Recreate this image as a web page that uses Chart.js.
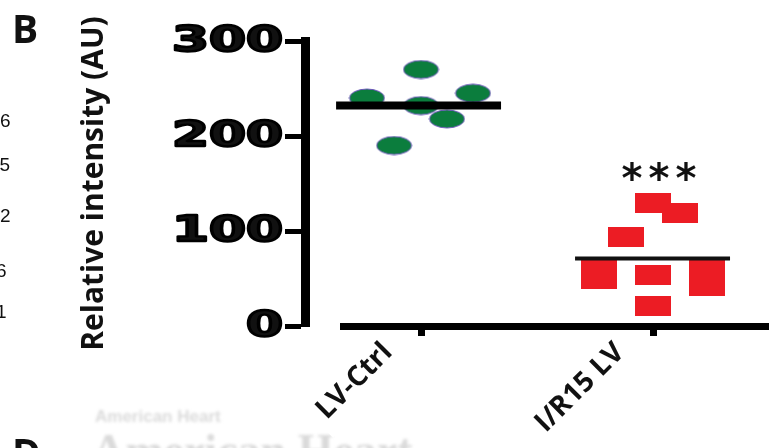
<!DOCTYPE html>
<html>
<head>
<meta charset="utf-8">
<script src="https://cdn.jsdelivr.net/npm/chart.js@4.4.1/dist/chart.umd.min.js"></script>
<style>
  html, body { margin: 0; padding: 0; background: #fff; }
  #wrap { width: 769px; height: 448px; position: relative; }
</style>
</head>
<body>
<div id="wrap"><canvas id="c"></canvas></div>
<script>
// datos
const categories = ['LV-Ctrl', 'I/R15 LV'];
const ctrlValues = [270, 245, 240, 232, 218, 190];
const ctrlJitter = [0, 0.224, -0.233, 0, 0.112, -0.116];
const irValues = [129, 119, 94, 59, 50, 54, 21, 59, 42];
const irJitter = [0, 0.116, -0.116, -0.233, -0.233, 0, 0, 0.233, 0.233];
const means = [232, 71];
const yTicks = [0, 100, 200, 300];
const sigLabel = '***';
const sigValue = 159;

// marcadores: elipse verde y rectángulo rojo
function ellipseMarker() {
  const c = document.createElement('canvas');
  c.width = 37; c.height = 20;
  const g = c.getContext('2d');
  g.beginPath();
  g.ellipse(18.5, 10, 17.5, 9, 0, 0, Math.PI * 2);
  g.fillStyle = '#0b7d3d';
  g.fill();
  g.lineWidth = 1;
  g.strokeStyle = '#6a55b8';
  g.stroke();
  return c;
}
function rectMarker() {
  const c = document.createElement('canvas');
  c.width = 36; c.height = 20;
  const g = c.getContext('2d');
  g.fillStyle = '#ec1c24';
  g.fillRect(0, 0, 36, 20);
  return c;
}

const ctrlPts = ctrlValues.map((v, i) => ({ x: 0 + ctrlJitter[i], y: v }));
const irPts = irValues.map((v, i) => ({ x: 1 + irJitter[i], y: v }));

// textos fuera del área: letra del panel, restos del panel vecino, marca de agua
const extras = {
  id: 'extras',
  beforeDraw(chart) {
    const ctx = chart.ctx;
    ctx.save();
    ctx.filter = 'blur(1.5px)';
    ctx.fillStyle = '#dadada';
    ctx.font = 'bold 17px "Liberation Sans"';
    ctx.fillText('American Heart', 95, 422);
    ctx.font = 'bold 46px "Liberation Serif"';
    ctx.fillText('American Heart', 92, 466);
    ctx.restore();
  },
  afterDraw(chart) {
    const ctx = chart.ctx;
    const x = chart.scales.x, y = chart.scales.y;
    ctx.save();
    ctx.fillStyle = '#111';
    ctx.font = 'bold 39px "Open Sans"';
    ctx.textBaseline = 'alphabetic';
    ctx.fillText('B', 12, 43);
    ctx.fillText('D', 12, 467);

    ctx.font = '19px "Liberation Sans"';
    ctx.fillText('6', 0, 127);
    ctx.fillText('75', -11, 171);
    ctx.fillText('2', 0, 222);
    ctx.fillText('6', -4, 277);
    ctx.fillText('1', -4, 318);

    // eje x (separado del eje y, estilo GraphPad)
    ctx.strokeStyle = '#000';
    ctx.lineWidth = 7;
    ctx.beginPath();
    ctx.moveTo(chart.chartArea.left + 35, chart.chartArea.bottom + 0.5);
    ctx.lineTo(chart.width, chart.chartArea.bottom + 0.5);
    ctx.stroke();

    // etiquetas del eje y, anchas y gruesas
    ctx.font = 'bold 35px "DejaVu Sans"';
    ctx.textAlign = 'right';
    ctx.textBaseline = 'middle';
    ctx.lineWidth = 2.4;
    ctx.lineJoin = 'round';
    y.ticks.forEach((t) => {
      const py = y.getPixelForValue(t.value);
      ctx.save();
      ctx.translate(283, py + 1);
      ctx.scale(1.52, 1);
      ctx.fillText(String(t.value), 0, 0);
      ctx.strokeText(String(t.value), 0, 0);
      ctx.restore();
    });

    // asteriscos de significancia
    ctx.font = 'bold 40px "DejaVu Sans"';
    ctx.textAlign = 'center';
    ctx.textBaseline = 'middle';
    const cx = x.getPixelForValue(1) + 6;
    const cy = y.getPixelForValue(sigValue) + 7;
    sigLabel.split('').forEach((s, i) => ctx.fillText(s, cx + (i - 1) * 27, cy));
    ctx.restore();
  }
};

new Chart(document.getElementById('c'), {
  type: 'scatter',
  data: {
    datasets: [
      { data: ctrlPts, pointStyle: ellipseMarker(), order: 2 },
      { data: irPts, pointStyle: rectMarker(), order: 2 },
      { type: 'line', data: [{ x: -0.366, y: means[0] }, { x: 0.345, y: means[0] }], borderColor: '#000', borderWidth: 8, pointRadius: 0, order: 1 },
      { type: 'line', data: [{ x: 1 - 0.336, y: means[1] }, { x: 1 + 0.332, y: means[1] }], borderColor: '#111', borderWidth: 4, pointRadius: 0, order: 1 }
    ]
  },
  plugins: [extras],
  options: {
    responsive: true,
    maintainAspectRatio: false,
    animation: false,
    events: [],
    layout: { autoPadding: false, padding: { top: 41, left: 0, right: 0, bottom: 0 } },
    plugins: { legend: { display: false }, tooltip: { enabled: false } },
    scales: {
      x: {
        type: 'linear', min: -0.5, max: 1.5,
        afterFit: (s) => { s.height = 122; s.paddingLeft = 0; s.paddingRight = 0; },
        afterBuildTicks: (s) => { s.ticks = categories.map((c, i) => ({ value: i })); },
        border: { display: false },
        grid: { drawOnChartArea: false, drawTicks: true, tickLength: 10, tickWidth: 7, tickColor: '#000' },
        ticks: {
          autoSkip: false,
          minRotation: 45, maxRotation: 45, labelOffset: -45, padding: 0,
          callback: (v) => categories[v] || '',
          color: '#111',
          font: { family: 'Open Sans', weight: '700', size: 28 },
          showLabelBackdrop: true, backdropColor: '#fff', backdropPadding: 8
        }
      },
      y: {
        min: 0, max: 300,
        afterFit: (s) => { s.width = 305; },
        afterBuildTicks: (s) => { s.ticks = yTicks.map((v) => ({ value: v })); },
        border: { display: true, width: 9, color: '#000' },
        grid: { drawOnChartArea: false, drawTicks: true, tickLength: 20, tickWidth: 5, tickColor: '#000' },
        ticks: { display: false },
        title: {
          display: true, text: 'Relative intensity (AU)', color: '#111',
          font: { family: 'Open Sans', weight: '700', size: 30 },
          padding: { top: 76, bottom: 0 }
        }
      }
    }
  }
});
</script>
</body>
</html>
